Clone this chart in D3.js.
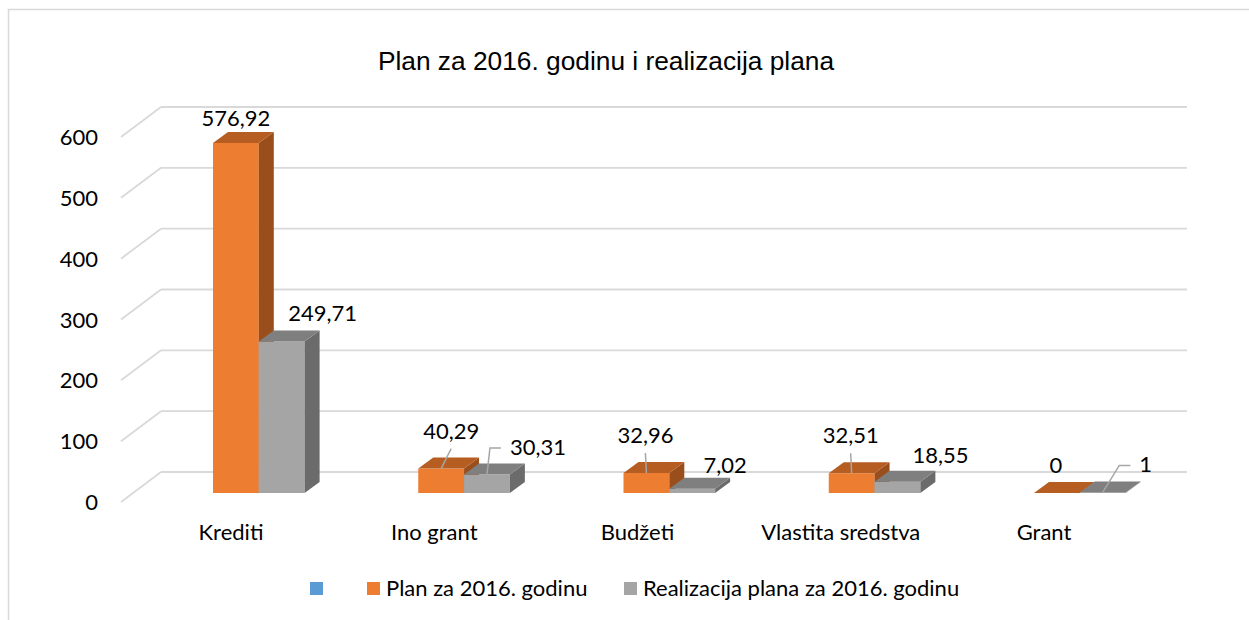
<!DOCTYPE html>
<html>
<head>
<meta charset="utf-8">
<script src="https://cdn.jsdelivr.net/npm/d3@7/dist/d3.min.js"></script>
<style>
  html, body { margin: 0; padding: 0; background: #ffffff; }
  svg { display: block; }
  text { font-family: Lato, "Open Sans", sans-serif; fill: #000; }
</style>
</head>
<body>
<svg id="chart" width="1249" height="620"></svg>
<script>
// ---- data ----
const categories = ["Krediti", "Ino grant", "Budžeti", "Vlastita sredstva", "Grant"];
const planValues = [576.92, 40.29, 32.96, 32.51, 0];
const realValues = [249.71, 30.31, 7.02, 18.55, 1];
const planLabels = ["576,92", "40,29", "32,96", "32,51", "0"];
const realLabels = ["249,71", "30,31", "7,02", "18,55", "1"];
const tickValues = [0, 100, 200, 300, 400, 500, 600];
const seriesNames = ["Plan za 2016. godinu", "Realizacija plana za 2016. godinu"];
const chartTitle = "Plan za 2016. godinu i realizacija plana";

// ---- layout ----
const svg = d3.select("#chart");
const depthX = 15, depthY = -11;        // bar depth projection
const wallDX = 40, wallDY = 30;         // side wall depth
const barW = 45.8;

const yBack = d3.scaleLinear().domain([0, 600]).range([472, 107]);
const yBar  = d3.scaleLinear().domain([0, 600]).range([493, 129]);
const xCat  = d3.scaleLinear().domain([0, categories.length - 1]).range([213, 1034]);
const xLab  = d3.scaleLinear().domain([0, categories.length - 1]).range([231, 1044]);
const wallLeft = 161, wallRight = 1187;

const colors = {
  plan: { front: "#ED7D31", top: "#B65D22", side: "#9A4E1C" },
  real: { front: "#A5A5A5", top: "#7F7F7F", side: "#6B6B6B" }
};

// outer border
svg.append("rect").attr("x", 8.5).attr("y", 9.5).attr("width", 1300).attr("height", 700)
  .attr("fill", "#fff").attr("stroke", "#d9d9d9").attr("stroke-width", 1.5);

// title
svg.append("text").attr("x", 606).attr("y", 70).attr("text-anchor", "middle")
  .style("font-family", "'Liberation Sans', Arial, sans-serif")
  .style("font-size", "26.3px").text(chartTitle);

// gridlines (back wall + side wall)
const grid = svg.append("g");
tickValues.forEach(v => {
  grid.append("line").attr("x1", wallLeft).attr("x2", wallRight)
    .attr("y1", yBack(v)).attr("y2", yBack(v))
    .attr("stroke", "#d9d9d9").attr("stroke-width", 1.8);
  grid.append("line").attr("x1", wallLeft - wallDX).attr("y1", yBack(v) + wallDY)
    .attr("x2", wallLeft).attr("y2", yBack(v))
    .attr("stroke", "#d9d9d9").attr("stroke-width", 1.8);
});

// tick labels
svg.append("g").selectAll("text").data(tickValues).join("text")
  .attr("x", 98).attr("y", d => yBack(d) + wallDY + 8)
  .attr("text-anchor", "end").style("font-size", "22px").text(d => d);

// bars
function drawBar(g, x0, v, c) {
  const yt = yBar(v), yb = yBar(0);
  if (yb - yt > 0) {
    g.append("rect").attr("x", x0).attr("y", yt).attr("width", barW).attr("height", yb - yt)
      .attr("fill", c.front);
    g.append("polygon").attr("points", [
      [x0 + barW, yt], [x0 + barW + depthX, yt + depthY],
      [x0 + barW + depthX, yb + depthY], [x0 + barW, yb]].map(p => p.join(",")).join(" "))
      .attr("fill", c.side);
  }
  g.append("polygon").attr("points", [
    [x0, yt], [x0 + depthX, yt + depthY],
    [x0 + barW + depthX, yt + depthY], [x0 + barW, yt]].map(p => p.join(",")).join(" "))
    .attr("fill", c.top);
}
const bars = svg.append("g");
categories.forEach((cat, i) => {
  const g = bars.append("g");
  drawBar(g, xCat(i), planValues[i], colors.plan);
  drawBar(g, xCat(i) + barW, realValues[i], colors.real);
});

// data labels (label nudges relative to front-top-centre of bar)
const planNudge = [[0, -17], [10, -30], [-1, -30], [-1, -30], [-1, -20]];
const realNudge = [[41, -20.5], [51, -19.6], [33, -15.7], [43, -18.7], [43, -20]];
const planLeader = [false, true, true, true, false];
const realLeader = [false, true, false, false, true];

const lbl = svg.append("g");
function addLabel(x0, v, txt, nudge, leader, side) {
  const ax = x0 + barW / 2, ay = yBar(v);
  const lx = ax + nudge[0], ly = ay + nudge[1];
  const t = lbl.append("text").attr("x", lx).attr("y", ly)
    .attr("text-anchor", "middle").style("font-size", "22px").text(txt);
  if (leader) {
    let pts;
    if (side) {
      const left = lx - t.node().getComputedTextLength() / 2;
      pts = [[ax, ay], [left - 20, ly - 7], [left - 9, ly - 7]];
    } else {
      pts = [[ax, ay], [lx, ly + 10]];
    }
    lbl.append("polyline").attr("points", pts.map(p => p.join(",")).join(" "))
      .attr("fill", "none").attr("stroke", "#a6a6a6").attr("stroke-width", 1.5);
  }
}
categories.forEach((cat, i) => {
  addLabel(xCat(i), planValues[i], planLabels[i], planNudge[i], planLeader[i], false);
  addLabel(xCat(i) + barW, realValues[i], realLabels[i], realNudge[i], realLeader[i], true);
});

// category labels
svg.append("g").selectAll("text").data(categories).join("text")
  .attr("x", (d, i) => xLab(i)).attr("y", 540)
  .attr("text-anchor", "middle").style("font-size", "22px").text(d => d);

// legend
const legend = svg.append("g");
const legendItems = [
  { color: "#5B9BD5", name: "", x: 310 },
  { color: colors.plan.front, name: seriesNames[0], x: 367 },
  { color: colors.real.front, name: seriesNames[1], x: 624 }
];
legendItems.forEach(it => {
  legend.append("rect").attr("x", it.x).attr("y", 582).attr("width", 13).attr("height", 13)
    .attr("fill", it.color);
  if (it.name) legend.append("text").attr("x", it.x + 19).attr("y", 596)
    .style("font-size", "22px").text(it.name);
});
</script>
</body>
</html>
